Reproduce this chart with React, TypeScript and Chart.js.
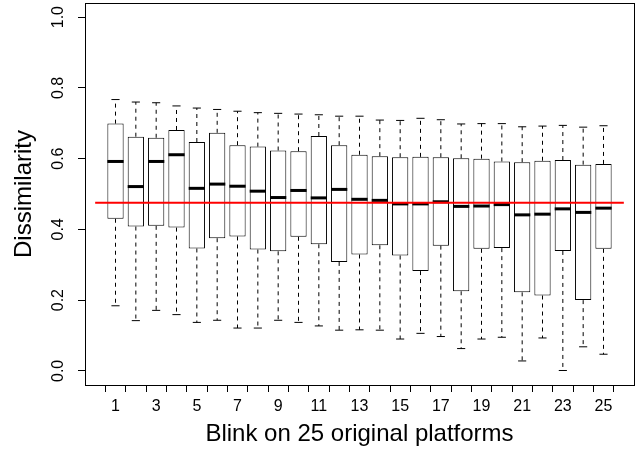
import React, { useEffect, useRef } from 'react';
import { Chart, registerables } from 'chart.js';

Chart.register(...registerables);

// ---- data ----
const categories = [1, 2, 3, 4, 5, 6, 7, 8, 9, 10, 11, 12, 13, 14, 15, 16, 17, 18, 19, 20, 21, 22, 23, 24, 25];
const whiskerLow = [0.184, 0.142, 0.171, 0.159, 0.137, 0.143, 0.121, 0.121, 0.143, 0.137, 0.127, 0.115, 0.116, 0.115, 0.090, 0.106, 0.097, 0.063, 0.090, 0.095, 0.028, 0.093, 0.001, 0.068, 0.047];
const q1 = [0.430, 0.408, 0.410, 0.405, 0.346, 0.375, 0.380, 0.343, 0.338, 0.379, 0.358, 0.308, 0.329, 0.355, 0.326, 0.282, 0.354, 0.225, 0.345, 0.347, 0.222, 0.213, 0.339, 0.200, 0.345];
const median = [0.592, 0.521, 0.592, 0.611, 0.516, 0.528, 0.522, 0.508, 0.490, 0.510, 0.489, 0.513, 0.485, 0.482, 0.472, 0.472, 0.478, 0.465, 0.466, 0.470, 0.441, 0.443, 0.458, 0.448, 0.460];
const q3 = [0.699, 0.662, 0.659, 0.681, 0.647, 0.673, 0.638, 0.634, 0.623, 0.621, 0.664, 0.638, 0.611, 0.607, 0.604, 0.605, 0.604, 0.601, 0.600, 0.592, 0.590, 0.594, 0.596, 0.583, 0.585];
const whiskerHigh = [0.767, 0.760, 0.758, 0.749, 0.743, 0.739, 0.734, 0.730, 0.728, 0.726, 0.724, 0.720, 0.720, 0.709, 0.708, 0.714, 0.710, 0.698, 0.699, 0.699, 0.690, 0.692, 0.694, 0.689, 0.693];
const referenceLevel = 0.475;
const referenceSpan = [0, 26];
const yTickValues = [0, 0.2, 0.4, 0.6, 0.8, 1.0];
const xTickValues = categories;
const xLabelledTicks = [1, 3, 5, 7, 9, 11, 13, 15, 17, 19, 21, 23, 25];
const xTitle = 'Blink on 25 original platforms';
const yTitle = 'Dissimilarity';

// ---- style constants ----
const BOX_HALF = 0.4;
const CAP_HALF = 0.2;
const BOX_DATASET = 1;

Chart.defaults.font.family = '"Liberation Sans", Arial, Helvetica, sans-serif';
Chart.defaults.color = '#000';

const boxplotPlugin = {
  id: 'boxplotParts',
  afterDatasetDraw(chart: any, args: any) {
    if (args.index !== BOX_DATASET) return;
    const { ctx } = chart;
    const xs = chart.scales.x;
    const ys = chart.scales.y;
    const seg = (x1: number, y1: number, x2: number, y2: number) => {
      ctx.beginPath();
      ctx.moveTo(x1, y1);
      ctx.lineTo(x2, y2);
      ctx.stroke();
    };
    ctx.save();
    ctx.strokeStyle = '#000';
    categories.forEach((c, i) => {
      const cx = xs.getPixelForValue(c);
      const bl = xs.getPixelForValue(c - BOX_HALF);
      const br = xs.getPixelForValue(c + BOX_HALF);
      const cl = xs.getPixelForValue(c - CAP_HALF);
      const cr = xs.getPixelForValue(c + CAP_HALF);
      const yLo = ys.getPixelForValue(whiskerLow[i]);
      const yQ1 = ys.getPixelForValue(q1[i]);
      const yMed = ys.getPixelForValue(median[i]);
      const yQ3 = ys.getPixelForValue(q3[i]);
      const yHi = ys.getPixelForValue(whiskerHigh[i]);
      ctx.lineWidth = 1;
      ctx.setLineDash([4, 4]);
      seg(cx, yQ3, cx, yHi);
      seg(cx, yQ1, cx, yLo);
      ctx.setLineDash([]);
      seg(cl, yHi, cr, yHi);
      seg(cl, yLo, cr, yLo);
      ctx.lineWidth = 3;
      seg(bl, yMed, br, yMed);
    });
    ctx.restore();
  },
};

const framePlugin = {
  id: 'plotFrame',
  afterDraw(chart: any) {
    const { ctx, chartArea } = chart;
    ctx.save();
    ctx.strokeStyle = '#000';
    ctx.lineWidth = 1;
    ctx.strokeRect(
      Math.round(chartArea.left) + 0.5,
      Math.round(chartArea.top) + 0.5,
      Math.round(chartArea.right) - Math.round(chartArea.left),
      Math.round(chartArea.bottom) - Math.round(chartArea.top)
    );
    ctx.restore();
  },
};

export default function App() {
  const canvasRef = useRef<HTMLCanvasElement | null>(null);

  useEffect(() => {
    if (!canvasRef.current) return;
    const chart = new Chart(canvasRef.current, {
      type: 'bar',
      data: {
        datasets: [
          {
            type: 'line',
            data: referenceSpan.map((x) => ({ x, y: referenceLevel })),
            borderColor: '#ff0000',
            borderWidth: 2,
            pointRadius: 0,
            fill: false,
          } as any,
          {
            type: 'bar',
            data: categories.map((c, i) => ({ x: c, y: [q1[i], q3[i]] })),
            backgroundColor: '#ffffff',
            borderColor: '#000000',
            borderWidth: 1,
            borderSkipped: false,
            barPercentage: 0.8,
            categoryPercentage: 1,
          } as any,
        ],
      },
      options: {
        animation: false,
        responsive: true,
        maintainAspectRatio: false,
        layout: { padding: { top: 3, right: 6, bottom: 0, left: 0 } },
        plugins: { legend: { display: false }, tooltip: { enabled: false } },
        scales: {
          x: {
            type: 'linear',
            min: -0.5,
            max: 26.5,
            offset: false,
            grid: { drawOnChartArea: false, drawTicks: true, tickLength: 7, color: '#000', lineWidth: 1 },
            border: { display: true, color: '#000', width: 1 },
            ticks: {
              autoSkip: false,
              maxRotation: 0,
              minRotation: 0,
              padding: 5,
              font: { size: 16 },
              color: '#000',
              callback: (v: any) => (xLabelledTicks.includes(Number(v)) ? String(v) : ''),
            },
            title: { display: true, text: xTitle, font: { size: 24 }, color: '#000', padding: { top: 0, bottom: 9 } },
            afterBuildTicks: (s: any) => {
              s.ticks = xTickValues.map((v) => ({ value: v }));
            },
            afterFit: (s: any) => {
              s.height = 73;
              s.paddingLeft = 0;
              s.paddingRight = 0;
            },
          } as any,
          y: {
            type: 'linear',
            min: -0.04,
            max: 1.04,
            grid: { drawOnChartArea: false, drawTicks: true, tickLength: 7, color: '#000', lineWidth: 1 },
            border: { display: true, color: '#000', width: 1 },
            ticks: {
              autoSkip: false,
              minRotation: 90,
              maxRotation: 90,
              crossAlign: 'center',
              padding: 8,
              font: { size: 16 },
              color: '#000',
              callback: (v: any) => Number(v).toFixed(1),
            },
            title: { display: true, text: yTitle, font: { size: 24 }, color: '#000', padding: { top: 10, bottom: 0 } },
            afterBuildTicks: (s: any) => {
              s.ticks = yTickValues.map((v) => ({ value: v }));
            },
            afterFit: (s: any) => {
              s.width = 85;
              s.paddingTop = 0;
              s.paddingBottom = 0;
            },
          } as any,
        },
      },
      plugins: [boxplotPlugin, framePlugin],
    });
    return () => chart.destroy();
  }, []);

  return (
    <div style={{ position: 'fixed', left: 0, top: 0, width: 640, height: 458, background: '#fff' }}>
      <canvas ref={canvasRef} />
    </div>
  );
}
